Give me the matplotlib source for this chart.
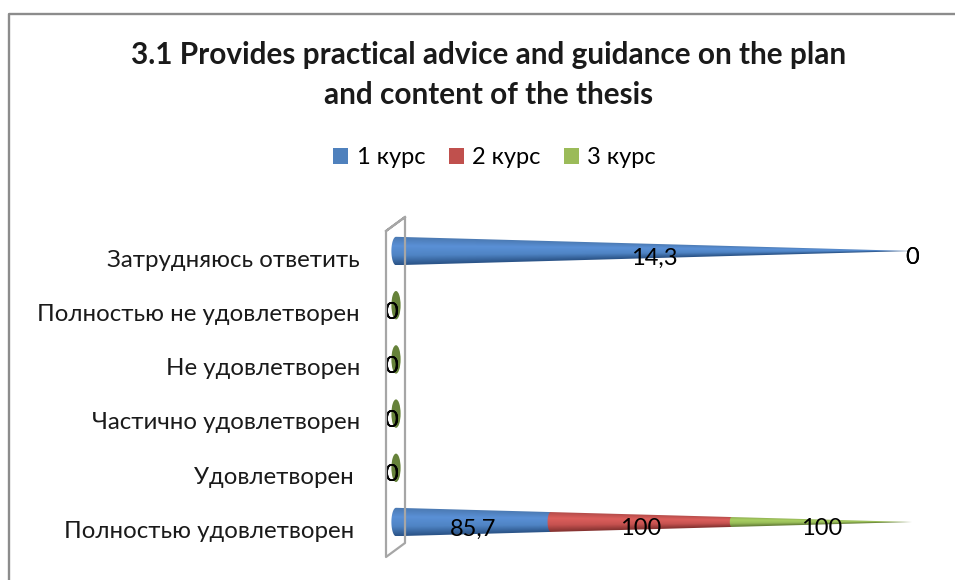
import numpy as np
from matplotlib import pyplot as plt
from matplotlib.colors import LinearSegmentedColormap
from matplotlib.lines import Line2D
from matplotlib.patches import Ellipse, Patch, PathPatch
from matplotlib.path import Path

plt.rcParams['font.family'] = ['Lato', 'Open Sans', 'DejaVu Sans']

W, H = 955, 580

title = '3.1 Provides practical advice and guidance on the plan\nand content of the thesis'
categories = ['Полностью удовлетворен ', 'Удовлетворен ', 'Частично удовлетворен',
              'Не удовлетворен', 'Полностью не удовлетворен', 'Затрудняюсь ответить']
series_names = ['1 курс', '2 курс', '3 курс']
course1 = [85.7, 0, 0, 0, 0, 14.3]
course2 = [100, 0, 0, 0, 0, 0]
course3 = [100, 0, 0, 0, 0, 0]
legend_colors = ['#4f81bd', '#c0504d', '#9bbb59']
shades = [['#4a78b0', '#5a90d6', '#4f84c4', '#2b5488'],
          ['#b04a48', '#dc5f5c', '#c65250', '#863331'],
          ['#8cab50', '#a9cf62', '#98bd58', '#667f38']]
empty_color = '#66823a'

# one axes over the whole figure: share 0..1 -> px 396..912, row 0..5 -> py 522..251
px_per_x = 516
px_per_row = 54.2
half_h = 14.2 / px_per_row
half_w = 4.6 / px_per_x


def label_text(v):
    return f'{v:g}'.replace('.', ',')


def draw_segment(ax, row, start, end, shade):
    """One slice of the cone between two shares of the row total."""
    theta = np.linspace(np.pi / 2, 3 * np.pi / 2, 30)
    scale = 1 - start
    left_x = start + half_w * scale * np.cos(theta)
    left_y = row + half_h * scale * np.sin(theta)
    xs = np.concatenate([left_x, [end, end]])
    ys = np.concatenate([left_y, [row - half_h * (1 - end), row + half_h * (1 - end)]])
    cmap = LinearSegmentedColormap.from_list('cone', shade)
    x0, x1 = start - half_w, end
    gx, gy = np.meshgrid(np.linspace(x0, x1, 300), np.linspace(row + half_h, row - half_h, 60))
    width = np.maximum(half_h * (1 - np.clip(gx, 0, 1)), 1e-4)
    v = np.clip((row + width - gy) / (2 * width), 0, 1)
    img = ax.imshow(v, cmap=cmap, vmin=0, vmax=1, extent=(x0, x1, row - half_h, row + half_h),
                    aspect='auto', zorder=3, interpolation='bilinear')
    patch = PathPatch(Path(np.column_stack([xs, ys])), transform=ax.transData,
                      facecolor='none', edgecolor='none')
    ax.add_patch(patch)
    img.set_clip_path(patch)


fig = plt.figure(figsize=(W / 100, H / 100), dpi=100)
ax = fig.add_axes([0, 0, 1, 1])
ax.axis('off')

values = np.array([course1, course2, course3], dtype=float)
for row in range(len(categories)):
    total = values[:, row].sum()
    if total == 0:
        ax.add_patch(Ellipse((0, row), 2 * half_w, 2 * half_h, facecolor=empty_color,
                             edgecolor='none', zorder=3))
    pos = 0
    for s in range(len(series_names)):
        share = values[s, row] / total if total else 0
        if share > 0:
            draw_segment(ax, row, pos, pos + share, shades[s])
        # zero labels sit a little left of the empty base
        shift = -3.6 if total == 0 else 0
        ax.annotate(label_text(values[s, row]), xy=(pos + share / 2, row), xytext=(shift, -5),
                    textcoords='offset points', ha='center', va='center', fontsize=17,
                    color='black', zorder=6)
        pos += share
    ax.annotate(categories[row], xy=(0, row), xytext=(-25.9, -6.7), textcoords='offset points',
                ha='right', va='center', fontsize=17.3, color='#1a1a1a')

ax.set_xlim(-396 / px_per_x, (W - 396) / px_per_x)
ax.set_ylim((522 - H) / px_per_row, 522 / px_per_row)


def to_fig(px, py):
    return [p / W for p in px], [1 - p / H for p in py]


# back wall of the 3D chart and the chart border
wall_x, wall_y = to_fig([386, 405, 405, 386, 386, 405], [231, 217, 543, 557, 231, 217])
fig.add_artist(Line2D(wall_x, wall_y, color='#a6a6a6', lw=1.6, zorder=1))
edge_x, edge_y = to_fig([955, 9, 9], [13.5, 13.5, 580])
fig.add_artist(Line2D(edge_x, edge_y, color='#8c8c8c', lw=1.7))

fig.text(489 / W, 1 - 75 / H, title, ha='center', va='center', fontsize=21.4, fontweight='bold',
         color='#1a1a1a', linespacing=1.52)

handles = [Patch(facecolor=c, edgecolor='none', label=n) for c, n in zip(legend_colors, series_names)]
fig.legend(handles=handles, loc='center', bbox_to_anchor=(494.5 / W, 1 - 158 / H), ncol=3, frameon=False,
           fontsize=17, handlelength=0.63, handleheight=0.63, handletextpad=0.35, columnspacing=1.0)

fig.savefig('out.png', dpi=100)
